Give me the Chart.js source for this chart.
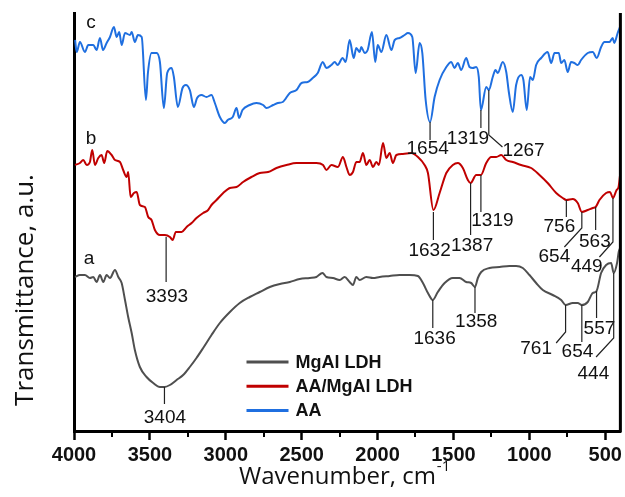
<!DOCTYPE html>
<html>
<head>
<meta charset="utf-8">
<script src="https://cdn.jsdelivr.net/npm/chart.js@4/dist/chart.umd.min.js"></script>
<style>
html,body{margin:0;padding:0;background:#fff;}
canvas{display:block;}
</style>
</head>
<body>
<canvas id="c" width="625" height="497"></canvas>
<script>
// ---- data (wavenumber cm-1, transmittance a.u. with offset) ----
const ldhWave = [3993,3961,3928,3895,3873,3851,3829,3807,3785,3763,3730,3708,3686,3664,3643,3620,3599,3566,3522,3478,3434,3404,3368,3324,3281,3237,3193,3149,3094,3039,2973,2908,2842,2776,2710,2644,2578,2513,2447,2403,2363,2337,2294,2249,2217,2184,2162,2140,2118,2074,2030,1986,1920,1855,1789,1734,1701,1668,1636,1603,1558,1504,1460,1416,1383,1358,1339,1317,1262,1196,1131,1087,1043,999,955,911,846,790,761,714,681,654,615,582,557,527,494,461,444,422,411,402];
const ldhT = [154,156,156,153,154,149,156,149,156,153,161,154,148,131,114,98,81,64,54,48,44,44,46,51,56,64,73,83,96,108,119,128,134,139,144,147,149,152,153,154,158,154,153,151,154,149,146,154,151,154,153,154,155,156,156,155,148,138,131,139,148,153,153,149,148,144,153,159,163,164,165,165,163,156,148,141,136,131,126,128,128,126,129,138,140,158,166,168,158,168,179,183];

const aaLdhWave = [3993,3961,3939,3916,3895,3880,3862,3840,3818,3801,3781,3752,3730,3697,3676,3653,3643,3627,3605,3587,3566,3533,3511,3489,3467,3434,3401,3368,3350,3329,3291,3258,3225,3193,3149,3116,3094,3061,3017,2973,2929,2886,2831,2776,2721,2666,2600,2534,2469,2403,2359,2337,2304,2261,2228,2205,2184,2162,2140,2118,2096,2074,2052,2030,2008,1991,1964,1942,1920,1899,1876,1833,1778,1734,1690,1668,1632,1591,1547,1504,1471,1438,1405,1387,1350,1319,1284,1251,1218,1185,1152,1109,1054,988,933,879,823,780,756,714,681,654,615,582,563,538,494,468,449,425,412,402];
const aaLdhT = [266,268,271,266,269,281,266,273,276,268,280,276,271,269,261,254,259,234,238,239,226,224,214,211,201,196,196,194,191,199,199,204,208,213,218,221,226,231,238,243,244,249,254,258,259,263,266,268,268,268,266,261,266,264,274,264,256,259,269,269,278,266,271,264,269,266,288,273,278,268,276,277,278,274,266,258,221,238,258,266,268,263,251,248,256,256,268,274,274,276,271,269,266,263,256,248,238,233,231,232,228,219,221,223,224,231,238,239,233,241,244,256];

const aaWave = [3993,3982,3961,3928,3906,3873,3851,3829,3809,3785,3763,3737,3719,3702,3686,3664,3631,3620,3599,3579,3554,3526,3513,3489,3456,3434,3408,3386,3357,3342,3316,3285,3263,3237,3210,3189,3160,3127,3094,3072,3039,3006,2987,2954,2929,2912,2890,2842,2798,2754,2732,2688,2657,2625,2578,2534,2501,2460,2427,2394,2361,2337,2304,2282,2263,2230,2210,2184,2157,2140,2118,2107,2085,2065,2037,2015,1999,1975,1942,1909,1887,1855,1822,1800,1771,1749,1723,1705,1683,1654,1624,1591,1547,1514,1493,1471,1449,1416,1394,1372,1350,1333,1319,1284,1267,1241,1223,1208,1175,1152,1135,1109,1087,1054,1039,1017,995,977,955,922,879,856,834,806,790,769,747,725,703,681,659,615,582,556,527,505,472,451,440,418,402];
const aaT = [391,379,389,379,386,386,381,393,381,388,394,404,394,399,386,398,396,399,389,396,394,331,358,378,378,369,323,358,363,354,324,343,346,341,324,333,336,334,336,328,314,308,311,314,323,313,321,326,328,326,323,326,328,329,338,341,348,349,353,358,369,363,366,369,366,373,369,391,373,383,379,384,378,381,399,369,386,379,396,381,391,393,396,398,394,358,388,378,331,309,334,351,364,369,363,368,361,373,364,363,364,354,321,344,341,354,361,358,369,359,339,319,346,356,351,321,354,351,366,373,379,368,378,378,368,371,359,369,368,366,371,378,379,373,384,389,389,393,388,398,404];

const seriesNames = ['MgAl LDH', 'AA/MgAl LDH', 'AA'];
const curveLetters = [
  {text: 'a', w: 3901, t: 172},
  {text: 'b', w: 3888, t: 292},
  {text: 'c', w: 3888, t: 408}
];
const xTickValues = [4000, 3500, 3000, 2500, 2000, 1500, 1000, 500];
const xMinorTicks = [3750, 3250, 2750, 2250, 1750, 1250, 750];

// peak callouts: w = peak, from/to = leader line (transmittance), bw/bt = bent end, tw/tt = label position
const callouts = [
  {w:1654, from:309, to:291, label:'1654', tw:1670, tt:291},
  {w:1319, from:321, to:303, label:'1319', tw:1404, tt:301},
  {w:1267, from:341, to:296, bw:1177, bt:284, label:'1267', tw:1038, tt:289},
  {w:3393, from:194, to:149, label:'3393', tw:3388, tt:143},
  {w:1632, from:219, to:191, label:'1632', tw:1657, tt:189},
  {w:1387, from:248, to:196, label:'1387', tw:1377, tt:194},
  {w:1319, from:256, to:219, label:'1319', tw:1243, tt:219},
  {w:756, from:231, to:214, label:'756', tw:802, tt:213},
  {w:654, from:219, to:203, bw:769, bt:184, label:'654', tw:835, tt:183},
  {w:563, from:224, to:201, label:'563', tw:568, tt:198},
  {w:449, from:233, to:189, bw:538, bt:174, label:'449', tw:621, tt:173},
  {w:3404, from:44, to:27, label:'3404', tw:3401, tt:22},
  {w:1636, from:131, to:103, label:'1636', tw:1624, tt:101},
  {w:1358, from:144, to:118, label:'1358', tw:1350, tt:118},
  {w:761, from:126, to:99, bw:823, bt:88, label:'761', tw:955, tt:91},
  {w:654, from:126, to:89, label:'654', tw:683, tt:88},
  {w:557, from:140, to:113, label:'557', tw:538, tt:111},
  {w:444, from:158, to:93, bw:560, bt:74, label:'444', tw:578, tt:66}
];

const colors = ['#4f4f4f', '#c00000', '#1f6fe0'];
const SANS = '"Liberation Sans", Arial, sans-serif';
const TITLE = '"Open Sans", sans-serif';

function pts(ws, ts) { return ws.map((w, i) => ({x: w, y: ts[i]})); }

const decorPlugin = {
  id: 'decor',
  afterDraw(chart) {
    const {ctx, chartArea: ca, scales: {x, y}} = chart;
    ctx.save();
    // right frame line
    ctx.strokeStyle = '#000';
    ctx.lineWidth = 3;
    ctx.beginPath();
    ctx.moveTo(ca.right, ca.top);
    ctx.lineTo(ca.right, ca.bottom + 1.5);
    ctx.stroke();
    // minor ticks
    ctx.lineWidth = 2;
    xMinorTicks.forEach(v => {
      const px = Math.round(x.getPixelForValue(v));
      ctx.beginPath();
      ctx.moveTo(px, ca.bottom);
      ctx.lineTo(px, ca.bottom + 6);
      ctx.stroke();
    });
    // callouts
    ctx.strokeStyle = '#222';
    ctx.lineWidth = 1.2;
    ctx.fillStyle = '#111';
    const fs = 19;
    ctx.font = fs + 'px ' + SANS;
    ctx.textAlign = 'center';
    ctx.textBaseline = 'alphabetic';
    callouts.forEach(c => {
      const px = x.getPixelForValue(c.w);
      ctx.beginPath();
      ctx.moveTo(px, y.getPixelForValue(c.from));
      ctx.lineTo(px, y.getPixelForValue(c.to));
      if (c.bw !== undefined) ctx.lineTo(x.getPixelForValue(c.bw), y.getPixelForValue(c.bt));
      ctx.stroke();
      ctx.fillText(c.label, x.getPixelForValue(c.tw), y.getPixelForValue(c.tt) + fs * 0.73);
    });
    // curve letters
    ctx.textBaseline = 'middle';
    curveLetters.forEach(l => {
      ctx.fillText(l.text, x.getPixelForValue(l.w), y.getPixelForValue(l.t));
    });
    // legend
    const lx = ca.left + 172.5, ly = ca.top + 349, gap = 24.2;
    chart.data.datasets.forEach((ds, i) => {
      const yy = ly + i * gap;
      ctx.strokeStyle = ds.borderColor;
      ctx.lineWidth = 3;
      ctx.beginPath();
      ctx.moveTo(lx, yy);
      ctx.lineTo(lx + 42, yy);
      ctx.stroke();
      ctx.fillStyle = '#111';
      ctx.font = 'bold 18px ' + SANS;
      ctx.textAlign = 'left';
      ctx.textBaseline = 'middle';
      ctx.fillText(ds.label, lx + 49, yy + 1);
    });
    // x title with superscript
    ctx.fillStyle = '#111';
    ctx.textBaseline = 'alphabetic';
    ctx.textAlign = 'left';
    const main = 'Wavenumber, cm', sup = '-1';
    ctx.font = '24px ' + TITLE;
    const wm = ctx.measureText(main).width;
    ctx.font = '15px ' + TITLE;
    const wsup = ctx.measureText(sup).width;
    const cx = (ca.left + ca.right) / 2 - 3;
    const sx = cx - (wm + wsup) / 2;
    ctx.font = '24px ' + TITLE;
    ctx.fillText(main, sx, 484);
    ctx.font = '15px ' + TITLE;
    ctx.fillText(sup, sx + wm + 1, 471);
    // y title
    ctx.translate(26, 290);
    ctx.rotate(-Math.PI / 2);
    ctx.textAlign = 'center';
    ctx.textBaseline = 'middle';
    ctx.font = '26px ' + TITLE;
    ctx.fillText('Transmittance, a.u.', 0, 0);
    ctx.restore();
  }
};

new Chart(document.getElementById('c'), {
  type: 'scatter',
  data: {
    datasets: [
      {label: seriesNames[0], data: pts(ldhWave, ldhT), borderColor: colors[0]},
      {label: seriesNames[1], data: pts(aaLdhWave, aaLdhT), borderColor: colors[1]},
      {label: seriesNames[2], data: pts(aaWave, aaT), borderColor: colors[2]}
    ].map(d => Object.assign(d, {showLine: true, pointRadius: 0, borderWidth: 2, cubicInterpolationMode: 'monotone', fill: false}))
  },
  options: {
    responsive: false,
    animation: false,
    devicePixelRatio: 1,
    layout: {padding: {top: 13, right: 4, left: 0, bottom: 0}},
    plugins: {legend: {display: false}, tooltip: {enabled: false}},
    scales: {
      x: {
        type: 'linear', reverse: true, min: 400, max: 4000,
        afterBuildTicks: s => { s.ticks = xTickValues.map(v => ({value: v})); },
        afterFit: s => { s.height = 66; },
        ticks: {color: '#111', font: {family: SANS, size: 20, weight: 'bold'}, padding: 3, maxRotation: 0, autoSkip: false,
          callback: v => String(v)},
        grid: {drawOnChartArea: false, drawTicks: true, tickLength: 9, tickWidth: 2.5, tickColor: '#000'},
        border: {display: true, width: 3, color: '#000'}
      },
      y: {
        min: 0, max: 418,
        afterFit: s => { s.width = 74; },
        ticks: {display: false},
        grid: {display: false, drawTicks: false},
        border: {display: true, width: 3, color: '#000'}
      }
    }
  },
  plugins: [decorPlugin]
});
</script>
</body>
</html>
